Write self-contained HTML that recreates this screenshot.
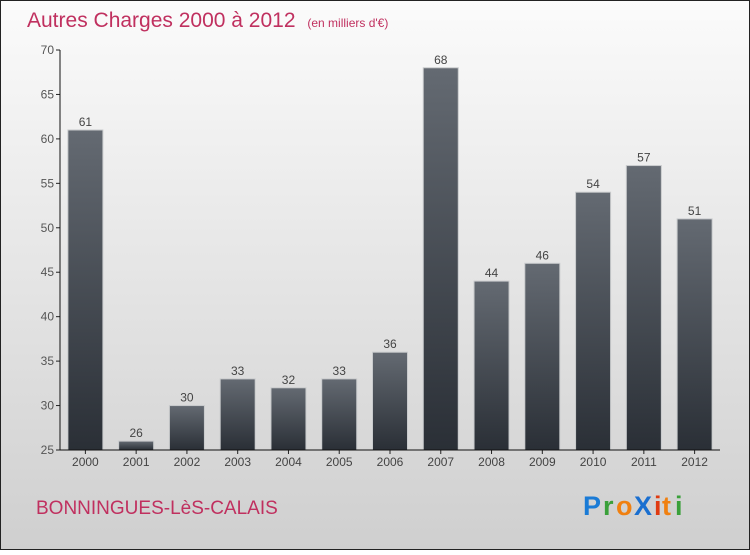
<!DOCTYPE html>
<html><head><meta charset="utf-8"><style>
body{margin:0;}
svg text{font-family:"Liberation Sans",sans-serif;}
</style></head><body>
<svg width="750" height="550" xmlns="http://www.w3.org/2000/svg">
<defs>
<linearGradient id="bg" x1="0" y1="0" x2="0" y2="1"><stop offset="0" stop-color="#fbfbfb"/><stop offset="1" stop-color="#cfcfcf"/></linearGradient>
<linearGradient id="bar" x1="0" y1="0" x2="0" y2="1"><stop offset="0" stop-color="#646a72"/><stop offset="1" stop-color="#2a2f36"/></linearGradient>
</defs>
<rect x="0.5" y="0.5" width="749" height="549" fill="url(#bg)" stroke="#222"/>
<text x="27" y="27" font-size="21" fill="#c0305f">Autres Charges 2000 à 2012 <tspan font-size="12" dx="6">(en milliers d'€)</tspan></text>
<g id="plot"></g>
<text x="36" y="514" font-size="19" fill="#c0305f">BONNINGUES-LèS-CALAIS</text>
<g font-size="27" font-weight="bold">
<text x="583" y="515" fill="#1a7bd6">P</text><text x="603" y="515" fill="#3aa03a">r</text><text x="616" y="515" fill="#f08010">o</text><text x="634" y="515" fill="#1a6fd0">X</text><text x="654" y="515" fill="#e03a10">i</text><text x="662" y="515" fill="#f08010">t</text><text x="675" y="515" fill="#3aa03a">i</text>
</g>
</svg>
<script>
const categories=["2000","2001","2002","2003","2004","2005","2006","2007","2008","2009","2010","2011","2012"];
const values=[61,26,30,33,32,33,36,68,44,46,54,57,51];
const yTicks=[25,30,35,40,45,50,55,60,65,70];
const NS="http://www.w3.org/2000/svg";
const g=document.getElementById('plot');
const x0=60,x1=720,yTop=50,yBot=450,ymin=25,ymax=70;
const step=(x1-x0)/categories.length;
const y=v=>yBot-(v-ymin)/(ymax-ymin)*(yBot-yTop);
function mk(t,a){const e=document.createElementNS(NS,t);for(const k in a)e.setAttribute(k,a[k]);g.appendChild(e);return e;}
yTicks.forEach(v=>{
 const l=mk('line',{x1:x0-4,x2:x0,y1:y(v),y2:y(v),stroke:'#222'});
 
 
 const t=mk('text',{x:x0-6,y:y(v)+4,'font-size':12,fill:'#555','text-anchor':'end'});t.textContent=v;
 
 
});
categories.forEach((c,i)=>{
 const cx=x0+step*(i+0.5);
 const r=mk('rect',{x:cx-17.5,y:y(values[i]),width:35,height:yBot-y(values[i]),fill:'url(#bar)',stroke:'#c8cacc','stroke-width':1});
 
 
 const t=mk('text',{x:cx,y:y(values[i])-4,'font-size':12,fill:'#444','text-anchor':'middle'});t.textContent=values[i];
 
 
 const tl=mk('line',{x1:cx,x2:cx,y1:yBot,y2:yBot+4,stroke:'#222'});
 
 
 const xl=mk('text',{x:cx,y:yBot+16,'font-size':12,fill:'#444','text-anchor':'middle'});xl.textContent=c;
 
 
});
const ya=mk('line',{x1:x0,x2:x0,y1:yTop,y2:yBot,stroke:'#111'});


const xa=mk('line',{x1:x0,x2:x1,y1:yBot,y2:yBot,stroke:'#111'});


</script>
</body></html>
